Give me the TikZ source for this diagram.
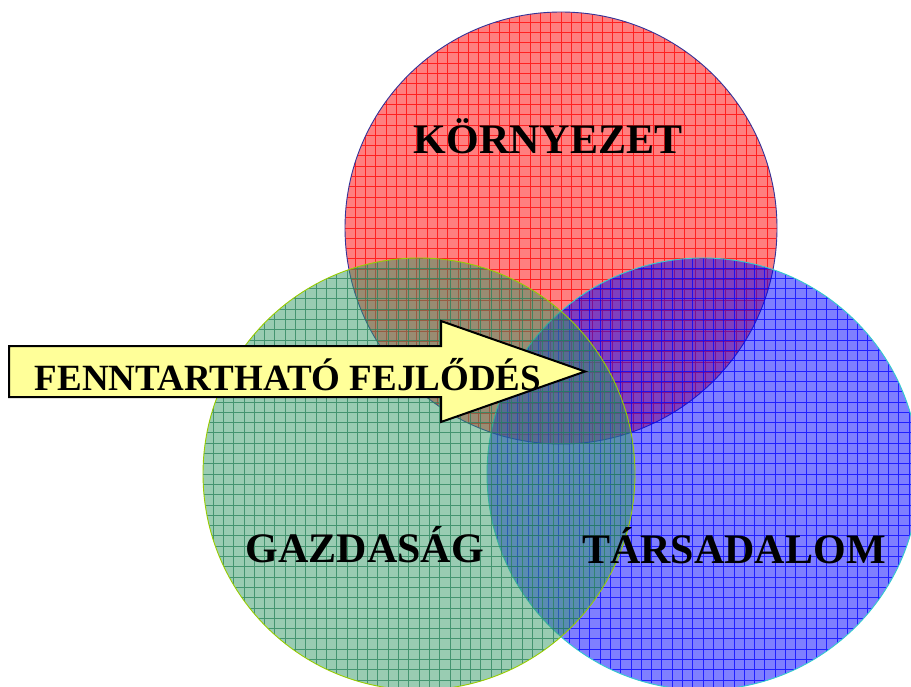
\documentclass[tikz,border=0pt]{standalone}
\usepackage{fontspec}
\setmainfont{Liberation Serif}

\definecolor{gridgreen}{RGB}{40,130,90}
\definecolor{fillgreen}{RGB}{51,153,102}
\definecolor{edgenavy}{RGB}{51,51,153}
\definecolor{edgeteal}{RGB}{51,204,204}
\definecolor{edgelime}{RGB}{153,204,0}
\definecolor{arrowyellow}{RGB}{255,255,153}

\tikzset{
  venn/.style={circle, minimum size=432pt, inner sep=0pt, line width=0.9pt},
  circletext/.style={font=\bfseries\fontsize{42}{48}\selectfont, inner sep=0pt, anchor=base},
  arrowtext/.style={font=\bfseries\fontsize{37}{42}\selectfont, inner sep=0pt, anchor=base}
}
\newcommand{\venngrid}[1]{\draw[draw=#1, line width=0.8pt, draw opacity=0.75, step=10.3pt] (path picture bounding box.south west) grid (path picture bounding box.north east);}

\begin{document}
\begin{tikzpicture}[x=1pt, y=-1pt]
\useasboundingbox (0,0) rectangle (911,687);
\clip (0,0) rectangle (911,687);

% the three circles
\node [venn, draw=edgenavy, fill=red, fill opacity=0.5, path picture={\venngrid{red}}] (kornyezet) at (561,228) {};
\node [venn, draw=edgeteal, fill=blue, fill opacity=0.5, path picture={\venngrid{blue}}] (tarsadalom) at (703,474) {};
\node [venn, draw=edgelime, fill=fillgreen, fill opacity=0.5, path picture={\venngrid{gridgreen}}] (gazdasag) at (419,474) {};

% arrow
\draw [line width=2pt, line join=miter, fill=arrowyellow] (9,346) -- (441,346) -- (441,321) -- (585,371.5) -- (441,422) -- (441,397) -- (9,397) -- cycle;
\node [arrowtext] (fejlodes) at (288,390) {FENNTARTHATÓ FEJLŐDÉS};

% labels
\node [circletext] (kornyezettext) at (548,154) {KÖRNYEZET};
\node [circletext] (gazdasagtext) at (365,562) {GAZDASÁG};
\node [circletext] (tarsadalomtext) at (734,563) {TÁRSADALOM};

\end{tikzpicture}
\end{document}
